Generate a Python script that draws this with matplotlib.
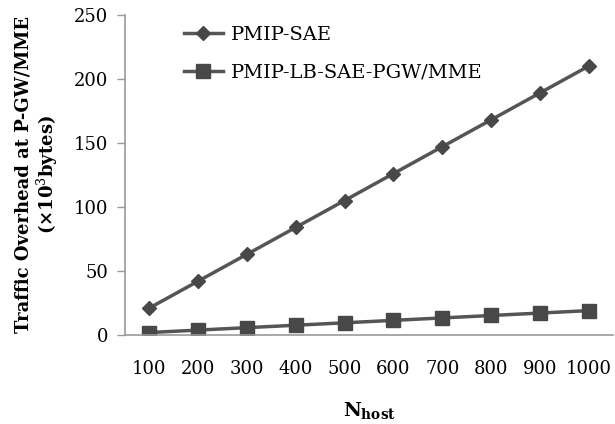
import numpy as np
import matplotlib.pyplot as plt

plt.rcParams['font.family'] = ['DejaVu Serif']
plt.rcParams['mathtext.fontset'] = 'dejavuserif'

hosts = ['100', '200', '300', '400', '500', '600', '700', '800', '900', '1000']
pmip_sae = [21, 42, 63, 84, 105, 126, 147, 168, 189, 210]
pmip_lb = [1.9, 3.8, 5.7, 7.6, 9.5, 11.4, 13.3, 15.2, 17.1, 19]

x = np.arange(len(hosts))

fig = plt.figure(figsize=(6.15, 4.24), dpi=100)
ax = fig.add_axes([0.203, 0.210, 0.794, 0.755])

ax.plot(x, pmip_sae, color='#555555', lw=2.5, marker='D', ms=7,
        mfc='#484848', mec='#484848', label='PMIP-SAE')
ax.plot(x, pmip_lb, color='#555555', lw=2.5, marker='s', ms=10,
        mfc='#484848', mec='#484848', label='PMIP-LB-SAE-PGW/MME')

ax.set_xlim(-0.5, 9.5)
ax.set_ylim(0, 250)
ax.set_yticks(range(0, 251, 50))
ax.set_xticks(x)
ax.set_xticklabels(hosts)
ax.tick_params(axis='x', length=0, pad=18, labelsize=13)
ax.tick_params(axis='y', length=6, color='#999999', width=1, labelsize=13, pad=6)

for s in ['top', 'right']:
    ax.spines[s].set_visible(False)
for s in ['left', 'bottom']:
    ax.spines[s].set_color('#999999')
    ax.spines[s].set_linewidth(1.2)

ax.set_xlabel(r'$\mathbf{N_{host}}$', fontsize=14, labelpad=16)
ax.set_ylabel('Traffic Overhead at P-GW/MME\n(\u00d710$^3$bytes)', fontsize=13,
              fontweight='bold', labelpad=10, linespacing=1.1)

ax.legend(loc='upper left', bbox_to_anchor=(0.085, 1.02), frameon=False,
          fontsize=14, handlelength=2.0, labelspacing=1.0, handletextpad=0.4)

fig.savefig('out.png', dpi=100)
